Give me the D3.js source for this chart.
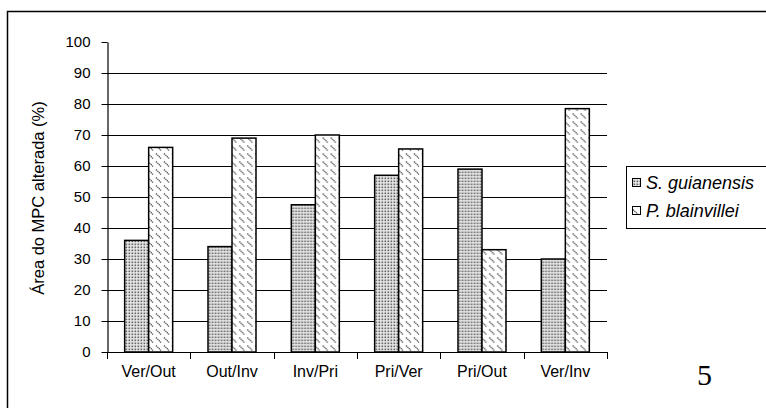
<!DOCTYPE html>
<html>
<head>
<meta charset="utf-8">
<script src="https://cdn.jsdelivr.net/npm/d3@7"></script>
<style>
body { margin: 0; background: #fff; }
svg { display: block; font-family: "Liberation Sans", Arial, sans-serif; }
</style>
</head>
<body>
<svg id="chart" width="766" height="408"></svg>
<script>
var categories = ["Ver/Out", "Out/Inv", "Inv/Pri", "Pri/Ver", "Pri/Out", "Ver/Inv"];
var series = ["S. guianensis", "P. blainvillei"];
var sGuianensis = [36, 34, 47.5, 57, 59, 30];
var pBlainvillei = [66, 69, 70, 65.5, 33, 78.5];
var yTicks = [0, 10, 20, 30, 40, 50, 60, 70, 80, 90, 100];

var svg = d3.select("#chart");
var values = [sGuianensis, pBlainvillei];

// outer frame, runs off the right and bottom edge
svg.append("rect")
	.attr("x", 7.5).attr("y", 11.5)
	.attr("width", 820).attr("height", 500)
	.attr("fill", "none").attr("stroke", "#000").attr("stroke-width", 1.5);

var defs = svg.append("defs");
var dots = defs.append("pattern")
	.attr("id", "dots").attr("patternUnits", "userSpaceOnUse")
	.attr("width", 3).attr("height", 3);
dots.append("rect").attr("width", 3).attr("height", 3).attr("fill", "#ececec");
dots.append("rect").attr("x", 0.5).attr("y", 0.5).attr("width", 1.7).attr("height", 1.7).attr("fill", "#666");

var dash = defs.append("pattern")
	.attr("id", "dash").attr("patternUnits", "userSpaceOnUse")
	.attr("width", 8).attr("height", 8);
dash.append("rect").attr("width", 8).attr("height", 8).attr("fill", "#fff");
dash.append("path").attr("d", "M1,1.5 L6,6.5")
	.attr("stroke", "#555").attr("stroke-width", 1.4).attr("stroke-dasharray", "1.3,0.7");

var fills = ["url(#dots)", "url(#dash)"];

var x0 = d3.scaleBand().domain(categories).range([107, 607]);
var x1 = d3.scaleBand().domain(series).range([0, x0.bandwidth()]).paddingOuter(0.736);
var y = d3.scaleLinear().domain([0, 100]).range([352, 42]);

// gridlines
svg.append("g").selectAll("line")
	.data(yTicks.filter(function (d) {return d > 0 && d < 100;}))
	.enter().append("line")
	.attr("x1", 107).attr("x2", 607)
	.attr("y1", function (d) {return Math.round(y(d)) + 0.5;})
	.attr("y2", function (d) {return Math.round(y(d)) + 0.5;})
	.attr("stroke", "#000").attr("stroke-width", 1);

// bars
var groups = svg.append("g").selectAll("g")
	.data(categories)
	.enter().append("g")
	.attr("transform", function (d) {return "translate(" + x0(d) + ",0)";});

groups.selectAll("rect")
	.data(function (d, i) {
		return series.map(function (s, j) {return {s: s, j: j, v: values[j][i]};});
	})
	.enter().append("rect")
	.attr("x", function (d) {return x1(d.s);})
	.attr("width", x1.bandwidth())
	.attr("y", function (d) {return y(d.v);})
	.attr("height", function (d) {return y(0) - y(d.v);})
	.attr("fill", function (d) {return fills[d.j];})
	.attr("stroke", "#000").attr("stroke-width", 1.5);

// y axis
var yAxis = svg.append("g")
	.attr("transform", "translate(107.5,0)")
	.call(d3.axisLeft(y).tickValues(yTicks).tickSize(6).tickSizeOuter(0));
yAxis.select(".domain").attr("stroke", "#000").attr("stroke-width", 1.2);
yAxis.selectAll(".tick line").attr("stroke", "#000");
yAxis.selectAll("text").attr("font-size", 15).attr("fill", "#000")
	.attr("font-family", "Liberation Sans, Arial, sans-serif").attr("x", -17);

// x axis
svg.append("line")
	.attr("x1", 107).attr("x2", 607).attr("y1", 352.5).attr("y2", 352.5)
	.attr("stroke", "#000").attr("stroke-width", 1.2);
svg.append("g").selectAll("line")
	.data(categories.concat(["end"]))
	.enter().append("line")
	.attr("x1", function (d, i) {return Math.round(107 + i * x0.bandwidth()) + 0.5;})
	.attr("x2", function (d, i) {return Math.round(107 + i * x0.bandwidth()) + 0.5;})
	.attr("y1", 352).attr("y2", 359)
	.attr("stroke", "#000");
svg.append("g").selectAll("text")
	.data(categories)
	.enter().append("text")
	.attr("x", function (d) {return x0(d) + x0.bandwidth() / 2;})
	.attr("y", 377)
	.attr("text-anchor", "middle")
	.attr("font-size", 16)
	.text(function (d) {return d;});

// y title
svg.append("text")
	.attr("transform", "translate(44,198) rotate(-90)")
	.attr("text-anchor", "middle")
	.attr("font-size", 16.5)
	.text("Área do MPC alterada (%)");

// legend
var legend = svg.append("g");
legend.append("rect")
	.attr("x", 626.5).attr("y", 166.5).attr("width", 200).attr("height", 62)
	.attr("fill", "#fff").attr("stroke", "#000").attr("stroke-width", 1);
series.forEach(function (s, j) {
	legend.append("rect")
		.attr("x", 632.5).attr("y", 178.5 + j * 28).attr("width", 8).attr("height", 8)
		.attr("fill", fills[j]).attr("stroke", "#000").attr("stroke-width", 1);
	legend.append("text")
		.attr("x", 646).attr("y", 189 + j * 28)
		.attr("font-size", 18).attr("font-style", "italic")
		.text(s);
});

svg.append("text")
	.attr("x", 697).attr("y", 385)
	.attr("font-family", "Liberation Serif, Times New Roman, serif")
	.attr("font-size", 30)
	.text("5");
</script>
</body>
</html>
